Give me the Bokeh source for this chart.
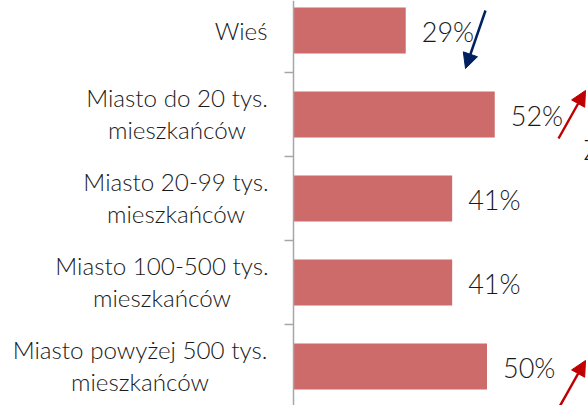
from bokeh.plotting import figure
from bokeh.models import Range1d, LinearAxis, FixedTicker, ColumnDataSource, Arrow, NormalHead, Label
from bokeh.core.properties import value
from bokeh.embed import file_html
from bokeh.resources import INLINE

# ---- data ----
categories = [
    "Wieś",
    "Miasto do 20 tys.\nmieszkańców",
    "Miasto 20-99 tys.\nmieszkańców",
    "Miasto 100-500 tys.\nmieszkańców",
    "Miasto powyżej 500 tys.\nmieszkańców",
]
values = [29, 52, 41, 41, 50]
value_labels = ["29%", "52%", "41%", "41%", "50%"]
trend = ["down", "up", None, None, "up"]

# ---- layout (pixels) ----
W, H = 588, 405
PX_PER_PCT = 3.87
AXIS_PX = 293
ROW_PX = 84
FIRST_ROW_PX = 30
BAR_PX = 46
LABEL_FONT = "24.2px"
VALUE_FONT = "27px"
FONT_NAME = "Lato Light, Lato"
FONT = value(FONT_NAME)
TEXT_COLOR = "#1a1a1a"
BAR_COLOR = "#CD6A6A"

# centre offsets of two-line label blocks (px from axis), single-line right gap
block_center_px = [None, -116.5, -117.5, -131.5, -153.5]
single_gap_px = -26
line1_dy, line2_dy, single_dy = -17, 15, 0

# arrow geometry (px relative to axis / row centre)
arrow_geom = {
    "down": ((192, -20), (172, 38)),
    "up": ((265, 24), (292, -24)),
}
arrow_geom_last = ((265, 42), (292, -6))

x0 = -AXIS_PX / PX_PER_PCT
x1 = x0 + W / PX_PER_PCT
y_top = -FIRST_ROW_PX / ROW_PX
y_bot = y_top + H / ROW_PX

p = figure(width=W, height=H, x_range=Range1d(x0, x1), y_range=Range1d(y_bot, y_top),
           output_backend="svg", toolbar_location=None,
           x_axis_location=None, y_axis_location=None, min_border=0)
p.outline_line_color = None
p.xgrid.visible = False
p.ygrid.visible = False
p.background_fill_color = "white"
p.border_fill_color = "white"

idx = list(range(len(categories)))
src = ColumnDataSource(dict(y=idx, v=values, lab=value_labels))

p.hbar(y="y", left=0, right="v", height=BAR_PX / ROW_PX, source=src,
       fill_color=BAR_COLOR, line_color=None)

p.text(x="v", y="y", text="lab", source=src, x_offset=16, y_offset=1, text_baseline="middle",
       text_align="left", text_font=FONT, text_font_size=VALUE_FONT, text_color=TEXT_COLOR)

# category labels
l_x, l_y, l_t, l_xo, l_yo, l_al = [], [], [], [], [], []
for i, c in enumerate(categories):
    lines = c.split("\n")
    if len(lines) == 1:
        l_x.append(0); l_y.append(i); l_t.append(lines[0])
        l_xo.append(single_gap_px); l_yo.append(single_dy); l_al.append("right")
    else:
        for ln, dy in zip(lines, (line1_dy, line2_dy)):
            l_x.append(0); l_y.append(i); l_t.append(ln)
            l_xo.append(block_center_px[i]); l_yo.append(dy); l_al.append("center")
lsrc = ColumnDataSource(dict(x=l_x, y=l_y, t=l_t, xo=l_xo, yo=l_yo, al=l_al))
p.text(x="x", y="y", text="t", x_offset="xo", y_offset="yo", text_align="al",
       text_baseline="middle", source=lsrc, text_font=FONT,
       text_font_size=LABEL_FONT, text_color=TEXT_COLOR)

# vertical axis with ticks between categories
ticks = [i + 0.5 for i in idx[:-1]]
axis = LinearAxis(fixed_location=0,
                  ticker=FixedTicker(ticks=ticks),
                  major_tick_out=9, major_tick_in=0,
                  minor_tick_out=0, minor_tick_in=0,
                  axis_line_color="#A6A6A6", axis_line_width=1.5,
                  major_tick_line_color="#A6A6A6", major_tick_line_width=1.5,
                  major_label_overrides={t: "" for t in ticks})
p.add_layout(axis, "left")

# trend arrows
for i, t in enumerate(trend):
    if t is None:
        continue
    (sx, sy), (ex, ey) = arrow_geom_last if (t == "up" and i == len(trend) - 1) else arrow_geom[t]
    col = "#002060" if t == "down" else "#C00000"
    p.add_layout(Arrow(end=NormalHead(size=15, fill_color=col, line_color=col),
                       x_start=sx / PX_PER_PCT, y_start=i + sy / ROW_PX,
                       x_end=ex / PX_PER_PCT, y_end=i + ey / ROW_PX,
                       line_color=col, line_width=2.5))

# partial text cut at the right edge
p.add_layout(Label(x=290 / PX_PER_PCT, y=1 + 18 / ROW_PX, text="Z",
                   text_baseline="top", text_font=FONT_NAME, text_font_size="27px",
                   text_color=TEXT_COLOR))

open("out.html", "w").write(file_html(p, INLINE))
